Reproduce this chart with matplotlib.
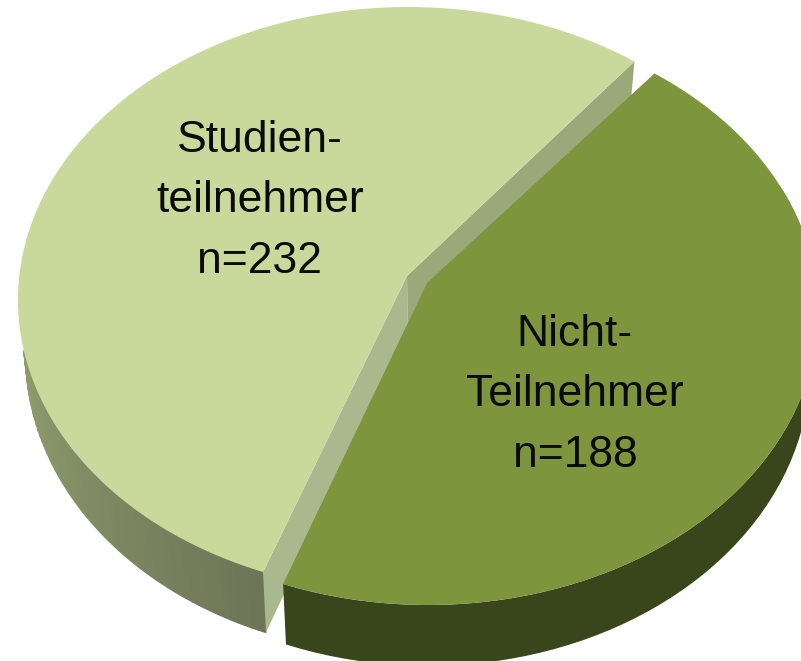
import numpy as np
import matplotlib
matplotlib.use("Agg")
import matplotlib.pyplot as plt

# Data
labels = ["Studien-\nteilnehmer\nn=232", "Nicht-\nTeilnehmer\nn=188"]
values = [232, 188]

# Colours
light_top = "#c9d99c"
dark_top = "#7d963d"
light_wall_a = np.array([0x93, 0xa3, 0x70]) / 255
light_wall_b = np.array([0x6e, 0x75, 0x57]) / 255
dark_wall = "#39451a"

plt.rcParams["font.family"] = ["Liberation Sans", "DejaVu Sans"]

START = 54.5        # where the first slice starts (degrees on the ellipse)
SQUEEZE = 0.974     # perspective makes the far side look a bit narrower
RX, RY = 390, 293
DEPTH = 55


def rim(cx, cy, t, bottom=False):
    """Punkte am Rand der Scheibe, oben oder unten"""
    r = np.radians(t)
    if bottom:
        return cx + 0.98 * RX * np.cos(r), cy + DEPTH - 1.02 * RY * np.sin(r)
    return cx + RX * np.cos(r), cy - RY * np.sin(r)


def wall(ax, cx, cy, t0, t1, color_a, color_b=None, steps=60):
    ts = np.linspace(t0, t1, steps + 1)
    if color_b is None:
        # one colour, one polygon
        x_top, y_top = rim(cx, cy, ts)
        x_bot, y_bot = rim(cx, cy, ts, bottom=True)
        ax.fill(np.r_[x_top, x_bot[::-1]], np.r_[y_top, y_bot[::-1]], color=color_a, lw=0)
        return
    for i in range(steps):
        # the top arc only starts where the lower rim leaves the top ellipse
        x_top, y_top = rim(cx, cy, np.clip(ts[i:i + 2], t0 + 10, None))
        x_bot, y_bot = rim(cx, cy, ts[i:i + 2], bottom=True)
        f = i / (steps - 1)
        col = tuple(color_a * (1 - f) + color_b * f)
        ax.fill(np.r_[x_top, x_bot[::-1]], np.r_[y_top, y_bot[::-1]], color=col, lw=1)


def slice_top(ax, cx, cy, apex, t0, t1, color):
    ts = np.linspace(t0, t1, 300)
    x, y = rim(cx, cy, ts)
    ax.fill(np.r_[apex[0], x], np.r_[apex[1], y], color=color, lw=0)


fig = plt.figure(figsize=(8.01, 6.61), dpi=100)
ax = fig.add_axes([0, 0, 1, 1])
ax.set_xlim(0, 801)
ax.set_ylim(661, 0)
ax.axis("off")

span_light = 360 * values[0] / sum(values) * SQUEEZE
t_cut = START + span_light

# Light slice
cx1, cy1 = 408, 300
apex1 = (407, 276)
wall(ax, cx1, cy1, 180, t_cut, light_wall_a, light_wall_b)
ex, ey = rim(cx1, cy1, t_cut)
bx, by = rim(cx1, cy1, t_cut, bottom=True)
ax.fill([apex1[0], ex, bx, apex1[0] + 1], [apex1[1], ey, by, apex1[1] + DEPTH],
        color="#a9b98d", lw=0)
sx, sy = rim(cx1, cy1, START)
qx, qy = rim(cx1, cy1, START, bottom=True)
ax.fill([apex1[0], sx, qx, apex1[0] + 1], [apex1[1], sy, qy, apex1[1] + DEPTH],
        color="#9ba97a", lw=0)
slice_top(ax, cx1, cy1, apex1, START, t_cut, light_top)

# Dark slice
cx2, cy2 = 428, 312
apex2 = (427, 283)
wall(ax, cx2, cy2, t_cut, 385, dark_wall)
slice_top(ax, cx2, cy2, apex2, t_cut, START + 360, dark_top)

# Labels
ax.text(260, 201, labels[0], ha="center", va="center", fontsize=32,
        linespacing=1.62, color="#0a0a0a")
ax.text(575, 395, labels[1], ha="center", va="center", fontsize=32,
        linespacing=1.62, color="#0a0a0a")

fig.savefig("out.png", dpi=100)
